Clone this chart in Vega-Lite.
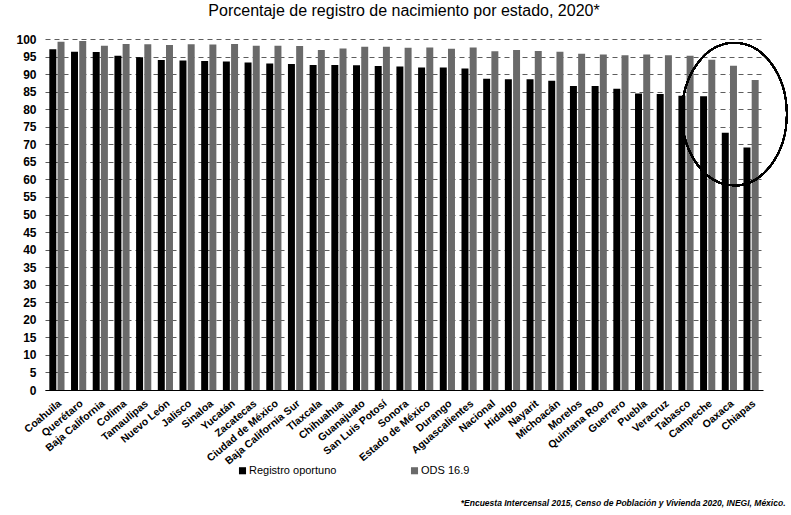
{
  "$schema": "https://vega.github.io/schema/vega-lite/v6.json",
  "autosize": {"type": "none"},
  "width": 718,
  "height": 351,
  "padding": {"left": 45, "top": 39, "right": 28, "bottom": 125},
  "background": "white",
  "title": {
    "text": "Porcentaje de registro de nacimiento por estado, 2020*",
    "font": "Liberation Sans",
    "fontSize": 16,
    "fontWeight": "normal",
    "color": "#000",
    "anchor": "middle",
    "offset": 14
  },
  "config": {
    "view": {"stroke": null},
    "font": "Liberation Sans"
  },
  "data": {
    "values": [
      {"estado": "Coahuila", "reg": 97.1, "ods": 99.2},
      {"estado": "Querétaro", "reg": 96.4, "ods": 99.4},
      {"estado": "Baja California", "reg": 96.3, "ods": 98.1},
      {"estado": "Colima", "reg": 95.2, "ods": 98.6},
      {"estado": "Tamaulipas", "reg": 94.8, "ods": 98.5},
      {"estado": "Nuevo León", "reg": 94.0, "ods": 98.3},
      {"estado": "Jalisco", "reg": 93.9, "ods": 98.5},
      {"estado": "Sinaloa", "reg": 93.7, "ods": 98.4},
      {"estado": "Yucatán", "reg": 93.6, "ods": 98.6},
      {"estado": "Zacatecas", "reg": 93.3, "ods": 98.1},
      {"estado": "Ciudad de México", "reg": 93.0, "ods": 98.1},
      {"estado": "Baja California Sur", "reg": 92.9, "ods": 98.0},
      {"estado": "Tlaxcala", "reg": 92.6, "ods": 96.9},
      {"estado": "Chihuahua", "reg": 92.6, "ods": 97.3},
      {"estado": "Guanajuato", "reg": 92.5, "ods": 97.8},
      {"estado": "San Luis Potosí", "reg": 92.3, "ods": 97.8},
      {"estado": "Sonora", "reg": 92.2, "ods": 97.5},
      {"estado": "Estado de México", "reg": 91.9, "ods": 97.6},
      {"estado": "Durango", "reg": 91.9, "ods": 97.2},
      {"estado": "Aguascalientes", "reg": 91.6, "ods": 97.6},
      {"estado": "Nacional", "reg": 88.7, "ods": 96.5},
      {"estado": "Hidalgo", "reg": 88.5, "ods": 96.9},
      {"estado": "Nayarit", "reg": 88.5, "ods": 96.6},
      {"estado": "Michoacán", "reg": 88.1, "ods": 96.4},
      {"estado": "Morelos", "reg": 86.6, "ods": 95.8},
      {"estado": "Quintana Roo", "reg": 86.6, "ods": 95.6},
      {"estado": "Guerrero", "reg": 85.8, "ods": 95.4},
      {"estado": "Puebla", "reg": 84.5, "ods": 95.6},
      {"estado": "Veracruz", "reg": 84.3, "ods": 95.4},
      {"estado": "Tabasco", "reg": 83.8, "ods": 95.2},
      {"estado": "Campeche", "reg": 83.7, "ods": 94.1},
      {"estado": "Oaxaca", "reg": 73.3, "ods": 92.4},
      {"estado": "Chiapas", "reg": 69.1, "ods": 88.3}
    ]
  },
  "layer": [
    {
      "transform": [{"fold": ["reg", "ods"], "as": ["serie", "valor"]}],
      "mark": {"type": "bar"},
      "encoding": {
        "x": {
          "field": "estado",
          "type": "nominal",
          "sort": null,
          "scale": {"paddingInner": 0.3, "paddingOuter": 0.2},
          "axis": {
            "title": "*Encuesta Intercensal 2015, Censo de Población y Vivienda 2020, INEGI, México.",
            "titleFont": "Liberation Sans",
            "titleFontSize": 8.5,
            "titleFontStyle": "italic",
            "titleFontWeight": "bold",
            "titleColor": "#000",
            "titleAlign": "right",
            "titleAnchor": "end",
            "titleX": 740,
            "titleY": 115,
            "titleBaseline": "alphabetic",
            "labelAngle": -40,
            "labelFont": "Liberation Sans",
            "labelFontSize": 10.5,
            "labelFontWeight": "bold",
            "labelColor": "#000",
            "labelPadding": 8,
            "ticks": false,
            "domain": true,
            "domainColor": "#000",
            "domainWidth": 1,
            "labelOverlap": false
          }
        },
        "xOffset": {
          "field": "serie",
          "type": "nominal",
          "sort": ["reg", "ods"],
          "scale": {"paddingInner": 0.15}
        },
        "y": {
          "field": "valor",
          "type": "quantitative",
          "scale": {"domain": [0, 100], "nice": false},
          "axis": {
            "title": null,
            "values": [0,5,10,15,20,25,30,35,40,45,50,55,60,65,70,75,80,85,90,95,100],
            "labelFont": "Liberation Sans",
            "labelFontSize": 12,
            "labelFontWeight": "bold",
            "labelColor": "#000",
            "labelPadding": 9,
            "labelOverlap": false,
            "ticks": false,
            "domain": false,
            "grid": true,
            "gridColor": "#333",
            "gridDash": [5, 4],
            "gridWidth": 0.8
          }
        },
        "color": {
          "field": "serie",
          "type": "nominal",
          "scale": {"domain": ["reg", "ods"], "range": ["#000000", "#6a6a6a"]},
          "legend": {
            "title": null,
            "orient": "none",
            "direction": "horizontal",
            "legendX": 192,
            "legendY": 426,
            "symbolType": "square",
            "symbolSize": 50,
            "symbolStrokeWidth": 0,
            "labelExpr": "datum.label == 'reg' ? 'Registro oportuno' : 'ODS 16.9'",
            "labelFont": "Liberation Sans",
            "labelFontSize": 11,
            "labelColor": "#000",
            "labelOffset": 1,
            "columnPadding": 72
          }
        }
      }
    },
    {
      "mark": {
        "type": "point",
        "shape": "M -1 0 C -1 -0.751 -0.5523 -1.36 0 -1.36 C 0.5523 -1.36 1 -0.751 1 0 C 1 0.751 0.5523 1.36 0 1.36 C -0.5523 1.36 -1 0.751 -1 0 Z",
        "size": 11000,
        "filled": false,
        "stroke": "#000",
        "strokeWidth": 1.5,
        "opacity": 1,
        "xOffset": 5
      },
      "encoding": {
        "x": {
          "datum": "Oaxaca",
          "type": "nominal",
          "axis": {
            "title": "*Encuesta Intercensal 2015, Censo de Población y Vivienda 2020, INEGI, México.",
            "titleFont": "Liberation Sans",
            "titleFontSize": 8.5,
            "titleFontStyle": "italic",
            "titleFontWeight": "bold",
            "titleColor": "#000",
            "titleAlign": "right",
            "titleAnchor": "end",
            "titleX": 740,
            "titleY": 115,
            "titleBaseline": "alphabetic",
            "labelAngle": -40,
            "labelFont": "Liberation Sans",
            "labelFontSize": 10.5,
            "labelFontWeight": "bold",
            "labelColor": "#000",
            "labelPadding": 8,
            "ticks": false,
            "domain": true,
            "domainColor": "#000",
            "domainWidth": 1,
            "labelOverlap": false
          }
        },
        "y": {
          "datum": 78.6,
          "type": "quantitative",
          "axis": {
            "title": null,
            "values": [0,5,10,15,20,25,30,35,40,45,50,55,60,65,70,75,80,85,90,95,100],
            "labelFont": "Liberation Sans",
            "labelFontSize": 12,
            "labelFontWeight": "bold",
            "labelColor": "#000",
            "labelPadding": 9,
            "labelOverlap": false,
            "ticks": false,
            "domain": false,
            "grid": true,
            "gridColor": "#333",
            "gridDash": [5, 4],
            "gridWidth": 0.8
          }
        }
      }
    }
  ]
}
